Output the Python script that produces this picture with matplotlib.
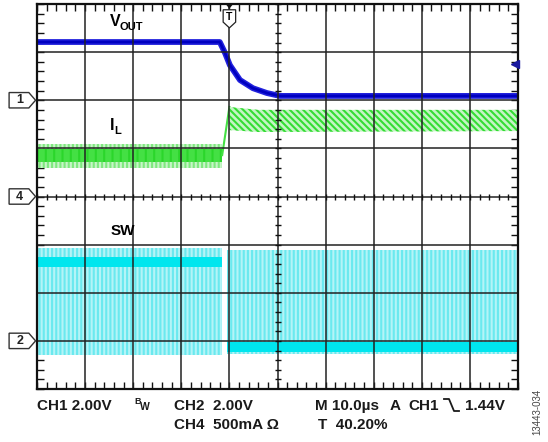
import numpy as np
import matplotlib
matplotlib.use("Agg")
import matplotlib.pyplot as plt
from matplotlib.patches import Polygon
from matplotlib.transforms import blended_transform_factory

plt.rcParams['font.family'] = ['Liberation Sans', 'DejaVu Sans']
plt.rcParams['hatch.linewidth'] = 1.5

W, H = 548, 442

# scope screen: 10 x 8 divisions, time in div (10 us/div)
# V_OUT trace (ch1)
vout_t = [0.0, 3.80, 3.91, 4.01, 4.22, 4.49, 4.78, 5.05, 10.0]
vout_v = [7.21, 7.21, 6.98, 6.73, 6.42, 6.25, 6.15, 6.09, 6.09]

# I_L trace (ch4), envelope before and after the load step
il_left_t = [0.0, 3.85]
il_left_lo = [4.60, 4.60]
il_left_hi = [5.10, 5.10]
il_left_core_lo = [4.72, 4.72]
il_left_core_hi = [4.98, 4.98]
il_rise_t = [3.85, 4.00]
il_rise_v = [4.86, 5.86]
il_right_t = [4.00, 4.60, 10.0]
il_right_lo = [5.38, 5.34, 5.36]
il_right_hi = [5.86, 5.80, 5.80]

# SW node (ch2), switching envelope and dense level
sw_left_t = [0.0, 3.85]
sw_left_lo = [0.70, 0.70]
sw_left_hi = [2.93, 2.93]
sw_left_core = [2.53, 2.75]
sw_right_t = [3.95, 10.0]
sw_right_lo = [0.72, 0.72]
sw_right_hi = [2.88, 2.88]
sw_right_core = [0.77, 0.98]

# channel ground markers and trigger
markers = [("1", 6.0), ("4", 4.0), ("2", 1.0)]
trig_x = 4.0
trig_level = 6.75

fig = plt.figure(figsize=(W / 100, H / 100), dpi=100)
ax = fig.add_axes([37 / W, 1 - 389 / H, 481 / W, 385 / H])
ax.set_xlim(0, 10)
ax.set_ylim(0, 8)

# grid
for gx in range(1, 10):
    ax.axvline(gx, color='#222222', lw=1.1, zorder=5)
for gy in range(1, 8):
    ax.axhline(gy, color='#222222', lw=1.1, zorder=5)
for s in ax.spines.values():
    s.set_linewidth(1.6)
    s.set_color('#111111')
    s.set_zorder(6)

ax.set_xticks([])
ax.set_yticks([])
minor_x = np.arange(0, 10.01, 0.2)
minor_y = np.arange(0, 8.01, 0.2)
ax.set_xticks(minor_x, minor=True)
ax.set_yticks(minor_y, minor=True)
ax.tick_params(which='minor', direction='in', length=5, width=1.0, color='#111111',
               top=True, bottom=True, left=True, right=True,
               labelbottom=False, labelleft=False)
# ticks along the centre lines
ax.plot(minor_x, np.full_like(minor_x, 4.0), ls='none', marker='|', ms=5, mew=1.0,
        color='#111111', zorder=6)
ax.plot(np.full_like(minor_y, 5.0), minor_y, ls='none', marker='_', ms=5, mew=1.0,
        color='#111111', zorder=6)

# SW trace
ax.fill_between(sw_left_t, sw_left_lo, sw_left_hi, facecolor='#b4f4f7',
                edgecolor='#6ae9ef', hatch='||||', lw=0, zorder=2)
ax.fill_between(sw_left_t, sw_left_core[0], sw_left_core[1], color='#00e6ee', lw=0, zorder=3)
ax.fill_between(sw_right_t, sw_right_lo, sw_right_hi, facecolor='#b4f4f7',
                edgecolor='#6ae9ef', hatch='||||', lw=0, zorder=2)
ax.fill_between(sw_right_t, sw_right_core[0], sw_right_core[1], color='#00e6ee', lw=0, zorder=3)

# I_L trace
ax.fill_between(il_left_t, il_left_lo, il_left_hi, facecolor='#c8f5c8',
                edgecolor='#7fe87f', hatch='||||', lw=0, zorder=2)
ax.fill_between(il_left_t, il_left_core_lo, il_left_core_hi, facecolor='#44e044',
                edgecolor='#2bd62b', hatch='||', lw=0, zorder=3)
ax.plot(il_rise_t, il_rise_v, color='#44e044', lw=1.5, zorder=3)
ax.fill_between(il_right_t, il_right_lo, il_right_hi, facecolor='#c4f4c4',
                edgecolor='#33dd33', hatch='\\\\\\\\\\', lw=0, zorder=3)

# V_OUT trace
ax.plot(vout_t, vout_v, color='#2222dd', lw=4.2, solid_capstyle='butt', zorder=4)
ax.plot(vout_t, vout_v, color='#0000c0', lw=2.0, solid_capstyle='butt', zorder=4)

# trigger level arrow on right edge
ax.plot([9.93], [trig_level], marker='<', ms=6, color='#1a1aa0', zorder=7, clip_on=False)

# channel markers on the left
tr = blended_transform_factory(ax.transAxes, ax.transData)
for lab, yv in markers:
    dy = 0.16
    box = Polygon([[-0.058, yv - dy], [-0.017, yv - dy], [-0.003, yv],
                   [-0.017, yv + dy], [-0.058, yv + dy]], closed=True,
                  facecolor='white', edgecolor='#333333', lw=1.0,
                  transform=tr, clip_on=False, zorder=8)
    ax.add_patch(box)
    ax.text(-0.036, yv, lab, transform=tr, ha='center', va='center',
            fontsize=9, fontweight='bold', color='#222222', clip_on=False, zorder=10)

# trigger position marker at top
trt = blended_transform_factory(ax.transData, ax.transAxes)
ax.add_patch(Polygon([[trig_x - 0.08, 1.0], [trig_x + 0.08, 1.0], [trig_x, 0.988]],
                     closed=True, facecolor='#111111', edgecolor='none',
                     transform=trt, clip_on=False, zorder=9))
ax.add_patch(Polygon([[trig_x - 0.13, 0.985], [trig_x + 0.13, 0.985],
                      [trig_x + 0.13, 0.953], [trig_x, 0.938], [trig_x - 0.13, 0.953]],
                     closed=True, facecolor='white', edgecolor='#222222', lw=0.9,
                     transform=trt, clip_on=False, zorder=9))
ax.text(trig_x, 0.965, "T", transform=trt, ha='center', va='center',
        fontsize=7.5, fontweight='bold', zorder=10)


def ftext(x, y, s, **kw):
    fig.text(x / W, 1 - y / H, s, **kw)


# trace labels
ftext(110, 22, "V", fontsize=11.5, fontweight='bold', va='center')
ftext(120, 27, "OUT", fontsize=8, fontweight='bold', va='center')
ftext(110, 126, "I", fontsize=11.5, fontweight='bold', va='center')
ftext(114, 131, "L", fontsize=8, fontweight='bold', va='center')
ftext(111, 231, "SW", fontsize=11, fontweight='bold', va='center')

# bottom status text
r1, r2 = 406, 425
bk = dict(fontsize=11, fontweight='bold', va='center', color='#1a1a1a')
ftext(37, r1, "CH1 2.00V", **bk)
ftext(134, r1 - 4, "B", fontsize=6.5, fontweight='bold', va='center', color='#1a1a1a')
ftext(140, r1 + 1, "W", fontsize=7.5, fontweight='bold', va='center', color='#1a1a1a')
ftext(174, r1, "CH2  2.00V", **bk)
ftext(174, r2, "CH4  500mA Ω", **bk)
ftext(315, r1, "M 10.0µs", **bk)
ftext(390, r1, "A", **bk)
ftext(408, r1, "CH1", **bk)
ftext(465, r1, "1.44V", **bk)
ftext(318, r2, "T  40.20%", **bk)
# falling-edge trigger symbol
sx = np.array([444, 449, 454, 459]) / W
sy = 1 - np.array([399, 399, 411, 411]) / H
fig.add_artist(plt.Line2D(sx, sy, color='#1a1a1a', lw=1.3, transform=fig.transFigure))

ftext(537, 412, "13443-034", fontsize=7, rotation=90, ha='center', va='center',
      color='#444444')

fig.savefig("out.png", dpi=100, facecolor='white')
